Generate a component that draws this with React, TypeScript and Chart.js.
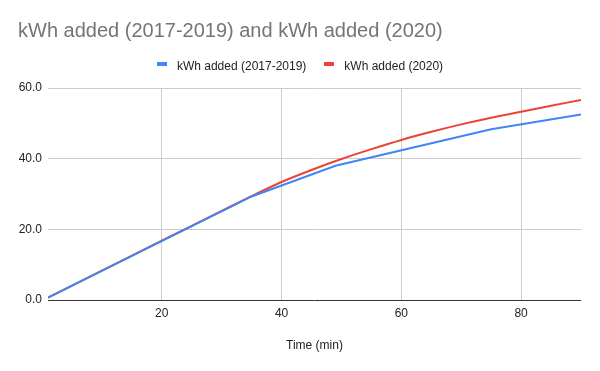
import React, { useEffect, useRef } from "react";
import { Chart, registerables } from "chart.js";

Chart.register(...registerables);

const chartTitle = "kWh added (2017-2019) and kWh added (2020)";
const xAxisTitle = "Time (min)";
const seriesNames = ["kWh added (2017-2019)", "kWh added (2020)"];
const seriesColors = ["#4285F4", "#EA4335"];
const blueTimes = [1, 35, 49, 75, 90];
const blueValues = [0.7, 29.3, 38.0, 48.3, 52.5];
const redTimes = [1, 10, 20, 30, 35, 40, 45, 50, 55, 60, 65, 70, 75, 80, 85, 90];
const redValues = [0.7, 8.3, 16.8, 25.2, 29.4, 33.4, 36.8, 39.9, 42.7, 45.3, 47.6, 49.7, 51.6, 53.3, 55.0, 56.6];
const xTicks = [20, 40, 60, 80];
const yTicks = [0, 20, 40, 60];

const FONT = "Arial, 'Liberation Sans', sans-serif";

const customLegend = {
  id: "customLegend",
  afterDraw(chart: any) {
    const ctx = chart.ctx as CanvasRenderingContext2D;
    ctx.save();
    ctx.font = `12px ${FONT}`;
    ctx.textBaseline = "alphabetic";
    ctx.textAlign = "left";
    const boxW = 10;
    const boxH = 4;
    const boxGap = 10;
    const itemGap = 18;
    const items = chart.data.datasets.map((d: any) => ({
      label: d.label as string,
      color: d.borderColor as string,
      w: ctx.measureText(d.label).width,
    }));
    const total =
      items.reduce((s: number, it: any) => s + boxW + boxGap + it.w, 0) + itemGap * (items.length - 1);
    let x = chart.width / 2 - total / 2;
    const baseline = 70;
    for (const it of items) {
      ctx.fillStyle = it.color;
      ctx.fillRect(Math.round(x), 62, boxW, boxH);
      x += boxW + boxGap;
      ctx.fillStyle = "#222";
      ctx.fillText(it.label, x, baseline);
      x += it.w + itemGap;
    }
    ctx.restore();
  },
};

export default function App() {
  const ref = useRef<HTMLCanvasElement | null>(null);
  useEffect(() => {
    if (!ref.current) return;
    const chart = new Chart(ref.current, {
      type: "line",
      data: {
        datasets: [
          {
            label: seriesNames[0],
            data: blueTimes.map((t, i) => ({ x: t, y: blueValues[i] })),
            borderColor: seriesColors[0],
            backgroundColor: seriesColors[0],
            borderWidth: 2,
            pointRadius: 0,
            tension: 0,
          },
          {
            label: seriesNames[1],
            data: redTimes.map((t, i) => ({ x: t, y: redValues[i] })),
            borderColor: seriesColors[1],
            backgroundColor: seriesColors[1],
            borderWidth: 2,
            pointRadius: 0,
            cubicInterpolationMode: "monotone",
          },
        ],
      },
      options: {
        animation: false,
        responsive: false,
        maintainAspectRatio: false,
        layout: { padding: { left: 18, right: 19, top: 0, bottom: 0 } },
        plugins: {
          title: {
            display: true,
            text: chartTitle,
            align: "start",
            color: "#757575",
            font: { family: FONT, size: 20, weight: "normal" },
            padding: { top: 19, bottom: 45 },
          },
          legend: { display: false },
          tooltip: { enabled: false },
        },
        scales: {
          x: {
            type: "linear",
            min: 1,
            max: 90,
            afterBuildTicks: (scale: any) => {
              scale.ticks = xTicks.map((v) => ({ value: v }));
            },
            afterFit: (scale: any) => {
              scale.height = 71;
            },
            grid: { color: "#cccccc", drawTicks: false },
            border: { display: false },
            ticks: {
              color: "#222",
              font: { family: FONT, size: 12 },
              padding: 6,
              maxRotation: 0,
            },
            title: {
              display: true,
              text: xAxisTitle,
              color: "#222",
              font: { family: FONT, size: 12 },
              padding: { top: 10, bottom: 18 },
            },
          },
          y: {
            min: 0,
            max: 60,
            afterBuildTicks: (scale: any) => {
              scale.ticks = yTicks.map((v) => ({ value: v }));
            },
            afterFit: (scale: any) => {
              scale.width = 30;
            },
            grid: {
              color: (ctx: any) => (ctx.tick && ctx.tick.value === 0 ? "#333333" : "#cccccc"),
              drawTicks: false,
            },
            border: { display: false },
            ticks: {
              color: "#222",
              font: { family: FONT, size: 12 },
              padding: 6,
              callback: (v: any) => Number(v).toFixed(1),
            },
          },
        },
      },
      plugins: [customLegend],
    });
    return () => chart.destroy();
  }, []);
  return (
    <div style={{ position: "fixed", left: 0, top: 0, width: 600, height: 371, background: "#fff" }}>
      <canvas ref={ref} width={600} height={371} style={{ width: 600, height: 371 }} />
    </div>
  );
}
